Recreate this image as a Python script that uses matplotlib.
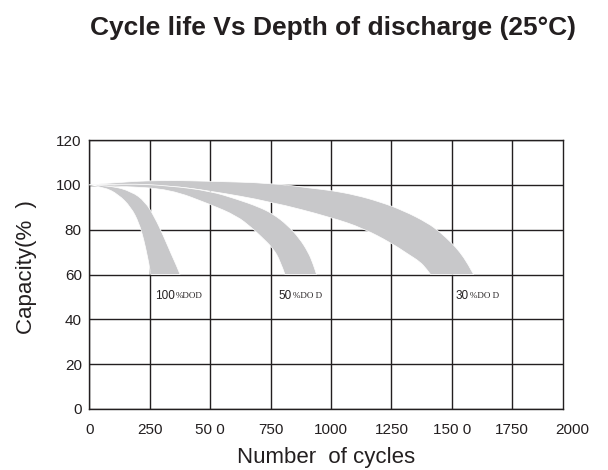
import matplotlib.pyplot as plt
from matplotlib.path import Path
from matplotlib.patches import PathPatch

# x ticks / labels (as printed on the original sheet)
x_ticks = [0, 250, 500, 750, 1000, 1250, 1500, 1750]
x_tick_labels = ['0', '250', '50 0', '750', '1000', '1250', '150 0', '1750']
y_ticks = [0, 20, 40, 60, 80, 100, 120]

# 100% DOD band (cycles, capacity %)
dod100_upper_x = [0, 90, 175, 230, 270, 305, 340, 360, 375]
dod100_upper_y = [100, 99.6, 97, 92.6, 85.5, 77.5, 68.7, 64, 60]
dod100_lower_x = [0, 60, 119, 172, 205, 225, 240, 250, 253]
dod100_lower_y = [100, 99, 95.8, 90, 83, 75.5, 68, 62.5, 60]

# 50% DOD band
dod50_upper_x = [0, 150, 333, 500, 610, 700, 760, 820, 870, 905, 925, 940]
dod50_upper_y = [100, 100.6, 99.6, 97.2, 93.6, 90.2, 87, 82, 76, 70, 65, 60]
dod50_lower_x = [0, 150, 333, 500, 610, 670, 710, 760, 790, 809]
dod50_lower_y = [100, 99.3, 98, 91.3, 86.1, 81, 77, 71.7, 66, 60]

# 30% DOD band
dod30_upper_x = [0, 150, 333, 500, 750, 925, 1000, 1100, 1200, 1300, 1400, 1450, 1500, 1533, 1565, 1590]
dod30_upper_y = [100, 101.5, 102, 101.6, 100.8, 98.4, 97.5, 95.5, 92.5, 88.5, 83, 79, 74, 70, 65, 60]
dod30_lower_x = [0, 150, 333, 500, 750, 1000, 1133, 1250, 1320, 1368, 1395, 1412]
dod30_lower_y = [100, 100.3, 99.6, 97.3, 92.5, 85.5, 80.6, 74, 69, 65.7, 62.5, 60]

labels = [('100', '%DOD', 271), ('50', '%DO D', 781), ('30', '%DO D', 1517)]

ink = '#231f20'
band_color = '#c8c8ca'

plt.rcParams['font.family'] = ['Liberation Sans', 'DejaVu Sans']


def smooth(pts):
    # quadratic b-spline through the read points, so the edge is drawn round
    verts = [pts[0]]
    codes = []
    n = len(pts)
    for i in range(1, n - 1):
        if i < n - 2:
            end = ((pts[i][0] + pts[i + 1][0]) / 2, (pts[i][1] + pts[i + 1][1]) / 2)
        else:
            end = pts[n - 1]
        verts += [pts[i], end]
        codes += [Path.CURVE3, Path.CURVE3]
    return verts, codes


def band_path(ux, uy, lx, ly):
    up = list(zip(ux, uy))
    low = list(zip(lx, ly))[::-1]
    v1, c1 = smooth(up)
    v2, c2 = smooth(low)
    verts = v1 + v2 + [up[0]]
    codes = [Path.MOVETO] + c1 + [Path.LINETO] + c2 + [Path.CLOSEPOLY]
    return Path(verts, codes)


fig = plt.figure(figsize=(6.08, 4.70), dpi=100)
ax = fig.add_axes([0.1472, 0.1298, 0.7788, 0.5723])

bands = [
    (dod30_upper_x, dod30_upper_y, dod30_lower_x, dod30_lower_y),
    (dod50_upper_x, dod50_upper_y, dod50_lower_x, dod50_lower_y),
    (dod100_upper_x, dod100_upper_y, dod100_lower_x, dod100_lower_y),
]
for ux, uy, lx, ly in bands:
    patch = PathPatch(band_path(ux, uy, lx, ly), facecolor=band_color,
                      edgecolor='white', linewidth=0.5, zorder=3)
    ax.add_patch(patch)

for t, d, x in labels:
    t1 = ax.text(x, 50.4, t, fontsize=8.5, color=ink, va='center', ha='left', zorder=4)
    ax.annotate(d, xy=(1, 0.5), xycoords=t1, xytext=(1, 0), textcoords='offset points',
                va='center', ha='left', fontsize=6.5, color=ink,
                family=['Liberation Serif', 'DejaVu Serif'], zorder=4)

ax.set_xlim(0, 1960)
ax.set_ylim(0, 120)
ax.set_xticks(x_ticks)
ax.set_xticklabels(x_tick_labels)
ax.set_yticks(y_ticks)
ax.grid(True, color=ink, linewidth=1.0, zorder=1)
ax.set_axisbelow(True)
for s in ax.spines.values():
    s.set_color(ink)
    s.set_linewidth(1.0)
ax.tick_params(length=0, labelsize=11, labelcolor=ink)
ax.tick_params(axis='x', pad=10)
ax.tick_params(axis='y', pad=5.5)

# last label sits past the frame
ax.text(2000, -14 / 269, '2000', transform=ax.get_xaxis_transform(), ha='center', va='top',
        fontsize=11, color=ink)

ax.set_xlabel('Number  of cycles', fontsize=16, color=ink)
ax.xaxis.set_label_coords(0.5, -0.182)
ax.xaxis.label.set_va('center')
ax.set_ylabel('Capacity(%  )', fontsize=16, color=ink)
ax.yaxis.set_label_coords(-0.134, 0.526)
ax.yaxis.label.set_va('center')

fig.text(0.548, 0.9255, 'Cycle life Vs Depth of discharge (25°C)', ha='center', va='baseline',
         fontsize=19, fontweight='bold', color=ink)

plt.savefig('out.png', dpi=100)
plt.close()
